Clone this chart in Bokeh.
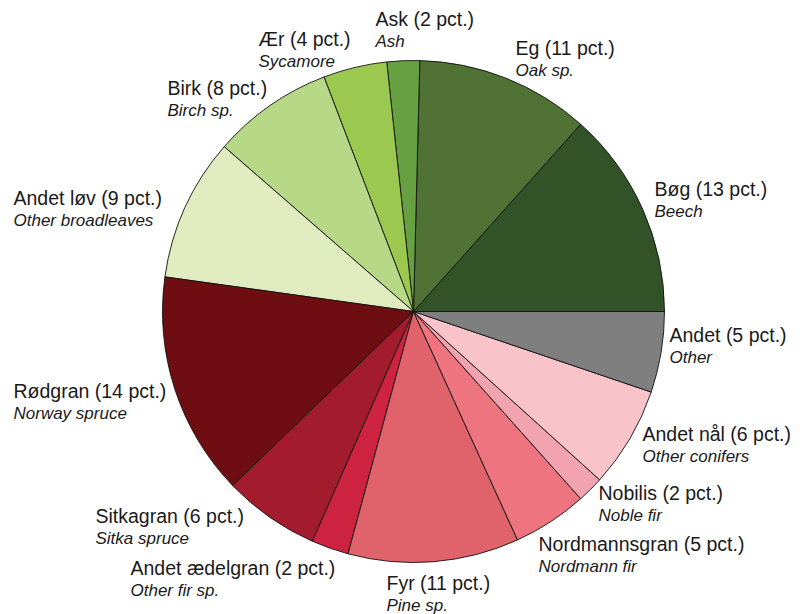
import numpy as np
from bokeh.plotting import figure
from bokeh.models import Range1d, ColumnDataSource
from bokeh.core.properties import value
from bokeh.embed import file_html
from bokeh.resources import INLINE

# --- data (counter-clockwise from 3 o'clock) ---
names_dk = ["Bøg", "Eg", "Ask", "Ær", "Birk", "Andet løv", "Rødgran", "Sitkagran",
            "Andet ædelgran", "Fyr", "Nordmannsgran", "Nobilis", "Andet nål", "Andet"]
names_en = ["Beech", "Oak sp.", "Ash", "Sycamore", "Birch sp.", "Other broadleaves",
            "Norway spruce", "Sitka spruce", "Other fir sp.", "Pine sp.", "Nordmann fir",
            "Noble fir", "Other conifers", "Other"]
pct_labels = [13, 11, 2, 4, 8, 9, 14, 6, 2, 11, 5, 2, 6, 5]
shares = [13.4, 11.2, 2.1, 4.1, 7.8, 9.2, 14.4, 6.2, 2.4, 11.0, 4.8, 1.7, 6.5, 5.2]

# --- styles / layout ---
colors = ["#325228", "#507235", "#67a040", "#9bc94f", "#b6d887", "#e0ebbf",
          "#6e0e12", "#a31c2e", "#cd2341", "#e0636b", "#ee7480", "#f2a3b0",
          "#f9c4c9", "#7f7f7f"]
# label anchor (pixel coordinates in the picture: x, y of first line centre)
lab_x = [654, 515, 375, 258, 167, 13, 13, 95, 130, 386, 538, 598, 642, 669]
lab_y = [188, 47, 18, 38, 87, 197, 390, 515, 567, 582, 543, 492, 433, 334]
line_gap = 22.5

W, H = 805, 614
cx, cy, R = 413, -311, 251

p = figure(width=W, height=H, output_backend="svg", toolbar_location=None,
           x_range=Range1d(0, W), y_range=Range1d(-H, 0),
           min_border=0, outline_line_color=None)
p.axis.visible = False
p.grid.visible = False

vals = np.array(shares, dtype=float)
frac = vals / vals.sum()
ends = np.cumsum(frac) * 2 * np.pi
starts = np.concatenate([[0.0], ends[:-1]])

src = ColumnDataSource(dict(start=starts, end=ends, color=colors))
p.wedge(x=cx, y=cy, radius=R, start_angle="start", end_angle="end",
        fill_color="color", line_color="#111111", line_width=0.9, source=src)

title_txt = [f"{n} ({v} pct.)" for n, v in zip(names_dk, pct_labels)]
ly = [-y for y in lab_y]
ly2 = [-y - line_gap for y in lab_y]
p.text(x=lab_x, y=ly, text=title_txt, text_font=value("Liberation Sans"),
       text_font_size="19.5px", text_color="#1a1a1a", text_align="left",
       text_baseline="middle")
p.text(x=lab_x, y=ly2, text=names_en, text_font=value("Liberation Sans"),
       text_font_size="17px", text_font_style="italic", text_color="#1a1a1a",
       text_align="left", text_baseline="middle")

open("out.html", "w").write(file_html(p, INLINE))
